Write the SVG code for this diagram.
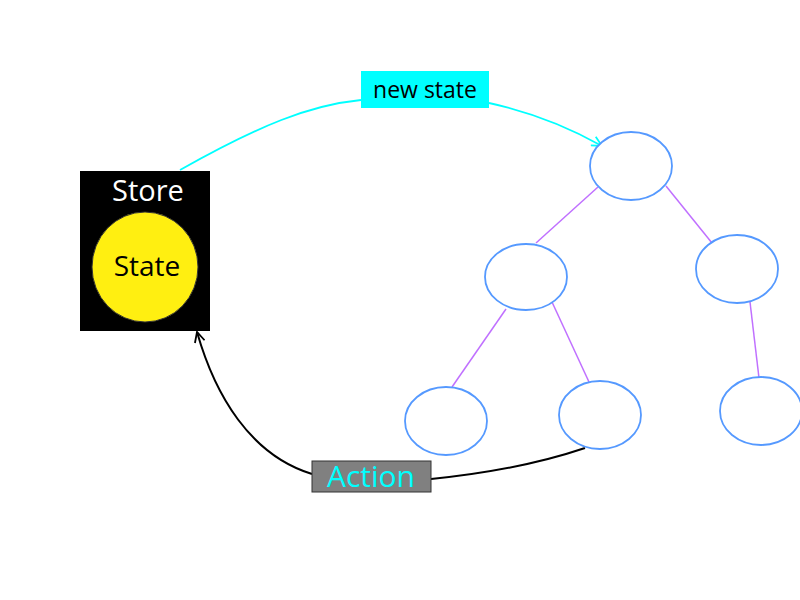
<svg xmlns="http://www.w3.org/2000/svg" width="800" height="600" viewBox="0 0 800 600">
<defs>
<marker id="arrC" viewBox="0 0 12 12" refX="11" refY="6" markerWidth="12" markerHeight="12" markerUnits="userSpaceOnUse" orient="auto">
<path d="M1,1 L11,6 L1,11" fill="none" stroke="#00ffff" stroke-width="1.8"/>
</marker>
<marker id="arrK" viewBox="0 0 12 12" refX="11" refY="6" markerWidth="12" markerHeight="12" markerUnits="userSpaceOnUse" orient="auto">
<path d="M1,1 L11,6 L1,11" fill="none" stroke="#000" stroke-width="1.8"/>
</marker>
</defs>
<style>
text{font-family:"Open Sans","Noto Sans","Liberation Sans",sans-serif;text-anchor:middle}
.node{fill:#fff;stroke:#5599ff;stroke-width:1.8}
.edge{stroke:#c070ff;stroke-width:1.5;fill:none}
</style>
<rect width="800" height="600" fill="#fff"/>
<g id="connectors">
<line class="edge" x1="598" y1="187" x2="536" y2="243"/>
<line class="edge" x1="666" y1="186" x2="712" y2="243"/>
<line class="edge" x1="506" y1="309" x2="452" y2="387"/>
<line class="edge" x1="552" y1="302" x2="589" y2="382"/>
<line class="edge" x1="750" y1="302" x2="759" y2="378"/>
<path d="M180,170 C260,125 310,105 361,100" fill="none" stroke="#00ffff" stroke-width="1.8"/>
<path d="M489,103 C530,112 570,128 602,146" fill="none" stroke="#00ffff" stroke-width="1.8" marker-end="url(#arrC)"/>
<path d="M312,474 C250,455 215,395 197,332" fill="none" stroke="#000" stroke-width="2" marker-end="url(#arrK)"/>
<path d="M431,479 Q520,470 585,448" fill="none" stroke="#000" stroke-width="2"/>
</g>
<g id="store">
<rect x="80" y="171" width="130" height="160" fill="#000"/>
<text x="148" y="201" font-size="29" fill="#fff">Store</text>
</g>
<g id="state">
<ellipse cx="145" cy="267" rx="53" ry="55" fill="#ffef11" stroke="#333" stroke-width="1"/>
<text x="147" y="276" font-size="28" fill="#000">State</text>
</g>
<g id="newstate">
<rect x="361" y="71" width="128" height="37" fill="#00ffff"/>
<text x="425" y="98" font-size="23" fill="#000">new state</text>
</g>
<g id="action">
<rect x="312" y="461" width="119" height="31" fill="#808080" stroke="#333" stroke-width="1"/>
<text x="371" y="487" font-size="30" fill="#00ffff">Action</text>
</g>
<g id="n1"><ellipse class="node" cx="631" cy="166" rx="41" ry="34"/></g>
<g id="n2"><ellipse class="node" cx="526" cy="277" rx="41" ry="33"/></g>
<g id="n3"><ellipse class="node" cx="737" cy="269" rx="41" ry="34"/></g>
<g id="n4"><ellipse class="node" cx="446" cy="421" rx="41" ry="34"/></g>
<g id="n5"><ellipse class="node" cx="600" cy="415" rx="41" ry="34"/></g>
<g id="n6"><ellipse class="node" cx="761" cy="411" rx="41" ry="34"/></g>
</svg>
